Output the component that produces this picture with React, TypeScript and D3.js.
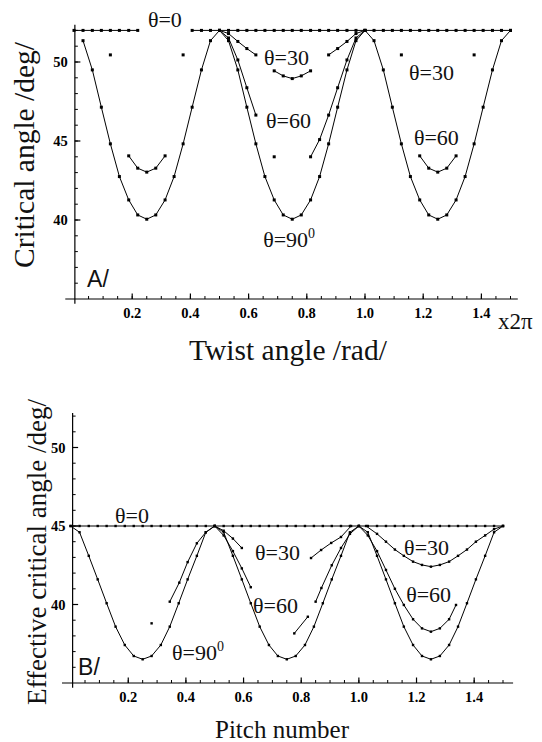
import React from "react";
import * as d3 from "d3";

type Pt = [number, number];

// sample positions (twist angle, units of 2π)
const samples = [
  0, 0.031, 0.063, 0.094, 0.125, 0.156, 0.188, 0.219, 0.25, 0.281, 0.313, 0.344, 0.375, 0.406, 0.438, 0.469, 0.5,
  0.531, 0.563, 0.594, 0.625, 0.656, 0.688, 0.719, 0.75, 0.781, 0.813, 0.844, 0.875, 0.906, 0.938, 0.969, 1.0,
  1.031, 1.063, 1.094, 1.125, 1.156, 1.188, 1.219, 1.25, 1.281, 1.313, 1.344, 1.375, 1.406, 1.438, 1.469, 1.5,
];

// panel A: critical angle, null = not plotted
const topTheta0 = [
  52, 52, 52, 52, 52, 52, 52, 52, null, null, null, null, null, 52, 52, 52, 52,
  52, 52, 52, 52, 52, 52, 52, 52, 52, 52, 52, 52, 52, 52, 52, 52,
  52, 52, 52, 52, 52, 52, 52, 52, 52, 52, 52, 52, 52, 52, 52, 52,
];
const topTheta30 = [
  null, null, null, null, 50.45, null, null, null, null, null, null, null, 50.45, null, null, null, 52,
  51.8, 51.3, 50.85, 50.45, null, 49.44, 49.12, 48.95, 49.12, 49.44, null, 50.45, 50.85, 51.3, 51.8, 52,
  null, null, null, 50.45, null, null, null, null, null, null, null, 50.45, null, null, null, null,
];
const topTheta60 = [
  null, null, null, null, null, null, 44.06, 43.28, 43.03, 43.28, 44.06, null, null, null, null, null, 52,
  51.52, 50.13, 48.37, 46.64, null, 44.0, null, null, null, 44.0, 45.09, 46.64, 48.37, 50.13, 51.52, 52,
  null, null, null, null, null, 44.06, 43.28, 43.03, 43.28, 44.06, null, null, null, null, null, null,
];
const topTheta90 = [
  null, 51.35, 49.5, 47.14, 44.82, 42.75, 41.27, 40.32, 40.05, 40.32, 41.27, 42.75, 44.82, 47.14, 49.5, 51.35, 52,
  51.35, 49.5, 47.14, 44.82, 42.75, 41.27, 40.32, 40.05, 40.32, 41.27, 42.75, 44.82, 47.14, 49.5, 51.35, 52,
  51.35, 49.5, 47.14, 44.82, 42.75, 41.27, 40.32, 40.05, 40.32, 41.27, 42.75, 44.82, 47.14, 49.5, 51.35, 52,
];

// panel B: effective critical angle vs pitch number
const bottomTheta0 = [
  45, 45, 45, 45, 45, 45, 45, 45, 45, 45, 45, 45, 45, 45, 45, 45, 45,
  45, 45, 45, 45, 45, 45, 45, 45, 45, 45, 45, 45, 45, 45, 45, 45,
  45, 45, 45, 45, 45, 45, 45, 45, 45, 45, 45, 45, 45, 45, 45, 45,
];
const bottomTheta90 = [
  45, 44.6, 43.1, 41.6, 40.08, 38.59, 37.42, 36.72, 36.51, 36.72, 37.42, 38.59, 40.08, 41.6, 43.1, 44.6, 45,
  44.6, 43.1, 41.6, 40.08, 38.59, 37.42, 36.72, 36.51, 36.72, 37.42, 38.59, 40.08, 41.6, 43.1, 44.6, 45,
  44.6, 43.1, 41.6, 40.08, 38.59, 37.42, 36.72, 36.51, 36.72, 37.42, 38.59, 40.08, 41.6, 43.1, 44.6, 45,
];
const bottomTheta60: Pt[][] = [
  [[0.281, 38.8]],
  [[0.344, 40.18], [0.377, 41.39], [0.406, 42.7], [0.438, 43.9], [0.469, 44.6], [0.5, 45]],
  [[0.5, 45], [0.531, 44.4], [0.563, 43.4], [0.594, 42.3], [0.625, 41.1]],
  [[0.776, 38.16], [0.823, 39.22]],
  [[0.85, 40.18], [0.87, 41.05], [0.906, 42.5], [0.938, 43.6], [0.969, 44.5], [1.0, 45]],
  [[1.0, 45], [1.031, 44.4], [1.063, 43.4], [1.094, 42.2], [1.125, 41.0], [1.156, 39.97], [1.188, 39.06],
   [1.219, 38.48], [1.25, 38.27], [1.281, 38.48], [1.313, 39.06], [1.337, 39.97]],
];
const bottomTheta30: Pt[][] = [
  [[0.5, 45], [0.531, 44.7], [0.563, 44.2], [0.594, 43.6]],
  [[0.834, 42.96], [0.869, 43.47], [0.904, 43.92], [0.938, 44.3], [0.973, 45]],
  [[1.025, 45], [1.063, 44.5], [1.094, 44.0], [1.125, 43.5], [1.156, 43.1], [1.188, 42.73], [1.219, 42.52],
   [1.25, 42.41], [1.281, 42.52], [1.313, 42.73], [1.344, 43.1], [1.375, 43.5], [1.406, 44.0], [1.438, 44.4],
   [1.469, 44.8], [1.5, 45]],
];

const xTicks = [0.2, 0.4, 0.6, 0.8, 1.0, 1.2, 1.4];
const xMinorTicks = d3.range(1, 31).map((i) => i * 0.05);
const yTicks = [40, 45, 50];
const yMinorTicks = d3.range(36, 53);

const serif = "'Liberation Serif', 'Times New Roman', serif";
const sans = "'Liberation Sans', Arial, sans-serif";

function toSegments(xs: number[], ys: (number | null)[]): Pt[][] {
  const segs: Pt[][] = [];
  let cur: Pt[] = [];
  ys.forEach((v, i) => {
    if (v == null) {
      if (cur.length) segs.push(cur);
      cur = [];
    } else cur.push([xs[i], v]);
  });
  if (cur.length) segs.push(cur);
  return segs;
}

type Label = { text: string; sup?: string; x: number; y: number };

function Panel({
  x,
  y,
  axisX,
  yTop,
  xStart,
  xEnd,
  curves,
  dot,
  labels,
  tag,
}: {
  x: d3.ScaleLinear<number, number>;
  y: d3.ScaleLinear<number, number>;
  axisX: number;
  yTop: number;
  xStart: number;
  xEnd: number;
  curves: Pt[][][];
  dot: number;
  labels: Label[];
  tag: Label;
}) {
  const line = d3
    .line<Pt>()
    .x((d) => x(d[0]))
    .y((d) => y(d[1]));
  const ax = x(axisX);
  const ay = y(35);
  return (
    <g>
      {/* axes */}
      <line x1={x(xStart)} x2={x(xEnd)} y1={ay} y2={ay} stroke="#000" strokeWidth={1.2} />
      <line x1={ax} x2={ax} y1={y(34.7)} y2={y(yTop)} stroke="#000" strokeWidth={1.2} />
      {xMinorTicks.map((t) => (
        <line key={"xm" + t} x1={x(t)} x2={x(t)} y1={ay} y2={ay - 3} stroke="#000" strokeWidth={1} />
      ))}
      {xTicks.map((t) => (
        <g key={"x" + t}>
          <line x1={x(t)} x2={x(t)} y1={ay} y2={ay - 5.5} stroke="#000" strokeWidth={1.2} />
          <text x={x(t)} y={ay + 19} textAnchor="middle" fontFamily={serif} fontWeight="bold" fontSize={14.5}>
            {t.toFixed(1)}
          </text>
        </g>
      ))}
      {yMinorTicks.map((t) => (
        <line key={"ym" + t} x1={ax} x2={ax + 3} y1={y(t)} y2={y(t)} stroke="#000" strokeWidth={1} />
      ))}
      {yTicks.map((t) => (
        <g key={"y" + t}>
          <line x1={ax} x2={ax + 5.5} y1={y(t)} y2={y(t)} stroke="#000" strokeWidth={1.2} />
          <text x={ax - 7} y={y(t) + 5} textAnchor="end" fontFamily={serif} fontWeight="bold" fontSize={14.5}>
            {t}
          </text>
        </g>
      ))}
      {/* curves */}
      {curves.map((segs, ci) =>
        segs.map((seg, si) => (
          <g key={`c${ci}-${si}`}>
            {seg.length > 1 && <path d={line(seg) ?? ""} fill="none" stroke="#000" strokeWidth={1} />}
            {seg.map((p, pi) => (
              <rect
                key={pi}
                x={x(p[0]) - dot / 2}
                y={y(p[1]) - dot / 2}
                width={dot}
                height={dot}
                fill="#000"
              />
            ))}
          </g>
        ))
      )}
      {/* labels */}
      {labels.map((l, i) => (
        <text key={"l" + i} x={x(l.x)} y={y(l.y)} fontFamily={serif} fontSize={22} fill="#111">
          {l.text}
          {l.sup && (
            <tspan dy={-9} fontSize={14}>
              {l.sup}
            </tspan>
          )}
        </text>
      ))}
      <text x={x(tag.x)} y={y(tag.y)} fontFamily={sans} fontSize={23} fill="#111">
        {tag.text}
      </text>
    </g>
  );
}

export default function App() {
  const xTop = d3.scaleLinear().domain([0, 1.5]).range([74, 510.5]);
  const yTopS = d3.scaleLinear().domain([35, 52]).range([299, 30.4]);
  const xBot = d3.scaleLinear().domain([0, 1.5]).range([70.6, 503]);
  const yBotS = d3.scaleLinear().domain([35, 45]).range([683, 526]);

  const topCurves = [topTheta0, topTheta30, topTheta60, topTheta90].map((v) => toSegments(samples, v));
  const botCurves = [toSegments(samples, bottomTheta0), bottomTheta30, bottomTheta60, toSegments(samples, bottomTheta90)];

  return (
    <svg width={542} height={742} style={{ position: "absolute", left: 0, top: 0, background: "#fff" }}>
      <rect width={542} height={742} fill="#fff" />
      <Panel
        x={xTop}
        y={yTopS}
        axisX={0.003}
        yTop={52.35}
        xStart={-0.03}
        xEnd={1.525}
        curves={topCurves}
        dot={3}
        labels={[
          { text: "θ=0", x: 0.254, y: 52.22 },
          { text: "θ=30", x: 0.653, y: 49.82 },
          { text: "θ=60", x: 0.66, y: 45.83 },
          { text: "θ=90", sup: "0", x: 0.65, y: 38.3 },
          { text: "θ=30", x: 1.151, y: 48.87 },
          { text: "θ=60", x: 1.168, y: 44.75 },
        ]}
        tag={{ text: "A/", x: 0.045, y: 35.77 }}
      />
      <Panel
        x={xBot}
        y={yBotS}
        axisX={0.007}
        yTop={52.2}
        xStart={-0.03}
        xEnd={1.535}
        curves={botCurves}
        dot={2.4}
        labels={[
          { text: "θ=0", x: 0.154, y: 45.19 },
          { text: "θ=30", x: 0.64, y: 42.83 },
          { text: "θ=60", x: 0.633, y: 39.46 },
          { text: "θ=90", sup: "0", x: 0.352, y: 36.46 },
          { text: "θ=30", x: 1.157, y: 43.15 },
          { text: "θ=60", x: 1.164, y: 40.16 },
        ]}
        tag={{ text: "B/", x: 0.026, y: 35.5 }}
      />
      {/* axis titles */}
      <text
        transform="translate(34,155) rotate(-90)"
        textAnchor="middle"
        fontFamily={serif}
        fontSize={29.5}
        fill="#111"
      >
        Critical angle /deg/
      </text>
      <text x={288} y={360} textAnchor="middle" fontFamily={serif} fontSize={29.5} fill="#111">
        Twist angle /rad/
      </text>
      <text x={498} y={329} fontFamily={serif} fontSize={23} fill="#111">
        x2π
      </text>
      <text
        transform="translate(46,552) rotate(-90)"
        textAnchor="middle"
        fontFamily={serif}
        fontSize={27}
        fill="#111"
      >
        Effective critical angle /deg/
      </text>
      <text x={282} y={738} textAnchor="middle" fontFamily={serif} fontSize={25} fill="#111">
        Pitch number
      </text>
    </svg>
  );
}
